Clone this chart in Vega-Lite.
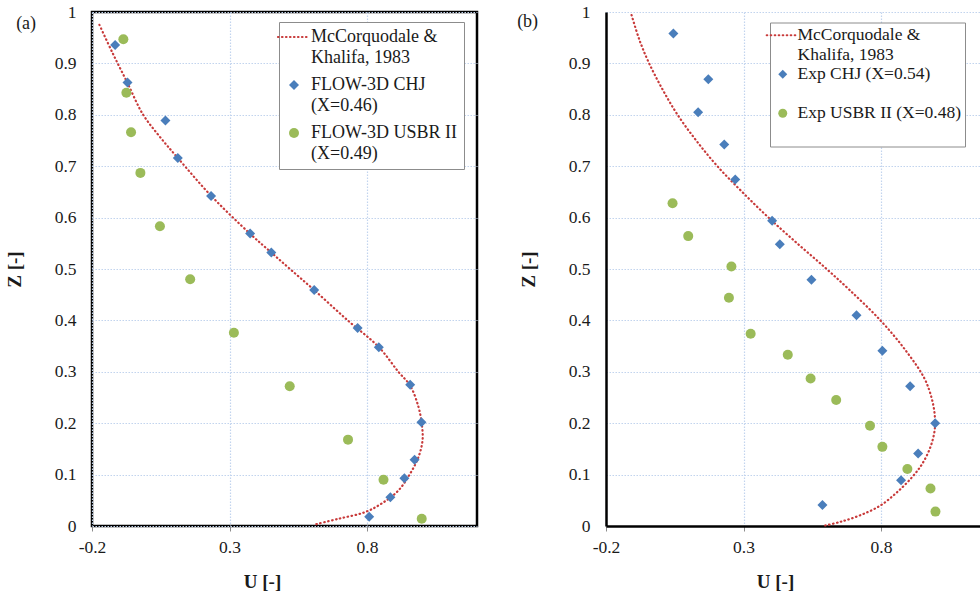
{
  "$schema": "https://vega.github.io/schema/vega-lite/v6.json",
  "background": "white",
  "padding": {"left": 3, "top": 1, "right": 0, "bottom": 0},
  "config": {
    "font": "Liberation Serif",
    "view": {"stroke": "#000000", "strokeWidth": 2.5},
    "axis": {
      "labelFont": "Liberation Serif", "labelFontSize": 17.5, "labelColor": "#1a1a1a", "labelFlush": false,
      "titleFont": "Liberation Serif", "titleFontSize": 19, "titleFontWeight": "bold", "titleColor": "#1a1a1a",
      "gridColor": "#c2d4ee", "gridDash": [1.5, 1.5], "gridWidth": 1.2, "gridOpacity": 1
    }
  },
  "datasets": {
    "curveA": [
      {"u": -0.173, "z": 0.975, "series": "McCorquodale & Khalifa, 1983"},
      {"u": -0.125, "z": 0.920, "series": "McCorquodale & Khalifa, 1983"},
      {"u": -0.072, "z": 0.863, "series": "McCorquodale & Khalifa, 1983"},
      {"u": -0.015, "z": 0.801, "series": "McCorquodale & Khalifa, 1983"},
      {"u": 0.047, "z": 0.757, "series": "McCorquodale & Khalifa, 1983"},
      {"u": 0.112, "z": 0.716, "series": "McCorquodale & Khalifa, 1983"},
      {"u": 0.234, "z": 0.642, "series": "McCorquodale & Khalifa, 1983"},
      {"u": 0.374, "z": 0.569, "series": "McCorquodale & Khalifa, 1983"},
      {"u": 0.452, "z": 0.532, "series": "McCorquodale & Khalifa, 1983"},
      {"u": 0.520, "z": 0.500, "series": "McCorquodale & Khalifa, 1983"},
      {"u": 0.608, "z": 0.459, "series": "McCorquodale & Khalifa, 1983"},
      {"u": 0.730, "z": 0.400, "series": "McCorquodale & Khalifa, 1983"},
      {"u": 0.843, "z": 0.348, "series": "McCorquodale & Khalifa, 1983"},
      {"u": 0.914, "z": 0.300, "series": "McCorquodale & Khalifa, 1983"},
      {"u": 0.957, "z": 0.273, "series": "McCorquodale & Khalifa, 1983"},
      {"u": 0.987, "z": 0.232, "series": "McCorquodale & Khalifa, 1983"},
      {"u": 0.999, "z": 0.199, "series": "McCorquodale & Khalifa, 1983"},
      {"u": 1.002, "z": 0.167, "series": "McCorquodale & Khalifa, 1983"},
      {"u": 0.987, "z": 0.134, "series": "McCorquodale & Khalifa, 1983"},
      {"u": 0.957, "z": 0.102, "series": "McCorquodale & Khalifa, 1983"},
      {"u": 0.914, "z": 0.069, "series": "McCorquodale & Khalifa, 1983"},
      {"u": 0.854, "z": 0.044, "series": "McCorquodale & Khalifa, 1983"},
      {"u": 0.793, "z": 0.027, "series": "McCorquodale & Khalifa, 1983"},
      {"u": 0.696, "z": 0.014, "series": "McCorquodale & Khalifa, 1983"},
      {"u": 0.611, "z": 0.003, "series": "McCorquodale & Khalifa, 1983"}
    ],
    "pointsA": [
      {"u": -0.116, "z": 0.936, "series": "FLOW-3D CHJ (X=0.46)"},
      {"u": -0.071, "z": 0.863, "series": "FLOW-3D CHJ (X=0.46)"},
      {"u": 0.067, "z": 0.789, "series": "FLOW-3D CHJ (X=0.46)"},
      {"u": 0.112, "z": 0.716, "series": "FLOW-3D CHJ (X=0.46)"},
      {"u": 0.233, "z": 0.642, "series": "FLOW-3D CHJ (X=0.46)"},
      {"u": 0.375, "z": 0.569, "series": "FLOW-3D CHJ (X=0.46)"},
      {"u": 0.452, "z": 0.532, "series": "FLOW-3D CHJ (X=0.46)"},
      {"u": 0.608, "z": 0.459, "series": "FLOW-3D CHJ (X=0.46)"},
      {"u": 0.766, "z": 0.385, "series": "FLOW-3D CHJ (X=0.46)"},
      {"u": 0.843, "z": 0.348, "series": "FLOW-3D CHJ (X=0.46)"},
      {"u": 0.957, "z": 0.275, "series": "FLOW-3D CHJ (X=0.46)"},
      {"u": 0.998, "z": 0.202, "series": "FLOW-3D CHJ (X=0.46)"},
      {"u": 0.973, "z": 0.129, "series": "FLOW-3D CHJ (X=0.46)"},
      {"u": 0.936, "z": 0.093, "series": "FLOW-3D CHJ (X=0.46)"},
      {"u": 0.885, "z": 0.056, "series": "FLOW-3D CHJ (X=0.46)"},
      {"u": 0.808, "z": 0.018, "series": "FLOW-3D CHJ (X=0.46)"},
      {"u": -0.086, "z": 0.947, "series": "FLOW-3D USBR II (X=0.49)"},
      {"u": -0.075, "z": 0.843, "series": "FLOW-3D USBR II (X=0.49)"},
      {"u": -0.058, "z": 0.766, "series": "FLOW-3D USBR II (X=0.49)"},
      {"u": -0.024, "z": 0.687, "series": "FLOW-3D USBR II (X=0.49)"},
      {"u": 0.047, "z": 0.583, "series": "FLOW-3D USBR II (X=0.49)"},
      {"u": 0.157, "z": 0.480, "series": "FLOW-3D USBR II (X=0.49)"},
      {"u": 0.316, "z": 0.376, "series": "FLOW-3D USBR II (X=0.49)"},
      {"u": 0.519, "z": 0.272, "series": "FLOW-3D USBR II (X=0.49)"},
      {"u": 0.731, "z": 0.168, "series": "FLOW-3D USBR II (X=0.49)"},
      {"u": 0.860, "z": 0.090, "series": "FLOW-3D USBR II (X=0.49)"},
      {"u": 0.999, "z": 0.014, "series": "FLOW-3D USBR II (X=0.49)"}
    ],
    "curveB": [
      {"u": -0.107, "z": 0.994, "series": "McCorquodale & Khalifa, 1983"},
      {"u": -0.078, "z": 0.945, "series": "McCorquodale & Khalifa, 1983"},
      {"u": -0.044, "z": 0.901, "series": "McCorquodale & Khalifa, 1983"},
      {"u": 0.005, "z": 0.850, "series": "McCorquodale & Khalifa, 1983"},
      {"u": 0.059, "z": 0.801, "series": "McCorquodale & Khalifa, 1983"},
      {"u": 0.128, "z": 0.750, "series": "McCorquodale & Khalifa, 1983"},
      {"u": 0.205, "z": 0.700, "series": "McCorquodale & Khalifa, 1983"},
      {"u": 0.295, "z": 0.650, "series": "McCorquodale & Khalifa, 1983"},
      {"u": 0.391, "z": 0.600, "series": "McCorquodale & Khalifa, 1983"},
      {"u": 0.495, "z": 0.550, "series": "McCorquodale & Khalifa, 1983"},
      {"u": 0.596, "z": 0.503, "series": "McCorquodale & Khalifa, 1983"},
      {"u": 0.686, "z": 0.459, "series": "McCorquodale & Khalifa, 1983"},
      {"u": 0.798, "z": 0.400, "series": "McCorquodale & Khalifa, 1983"},
      {"u": 0.889, "z": 0.342, "series": "McCorquodale & Khalifa, 1983"},
      {"u": 0.958, "z": 0.287, "series": "McCorquodale & Khalifa, 1983"},
      {"u": 0.986, "z": 0.245, "series": "McCorquodale & Khalifa, 1983"},
      {"u": 0.996, "z": 0.212, "series": "McCorquodale & Khalifa, 1983"},
      {"u": 0.995, "z": 0.186, "series": "McCorquodale & Khalifa, 1983"},
      {"u": 0.980, "z": 0.154, "series": "McCorquodale & Khalifa, 1983"},
      {"u": 0.950, "z": 0.121, "series": "McCorquodale & Khalifa, 1983"},
      {"u": 0.913, "z": 0.095, "series": "McCorquodale & Khalifa, 1983"},
      {"u": 0.859, "z": 0.066, "series": "McCorquodale & Khalifa, 1983"},
      {"u": 0.798, "z": 0.040, "series": "McCorquodale & Khalifa, 1983"},
      {"u": 0.725, "z": 0.021, "series": "McCorquodale & Khalifa, 1983"},
      {"u": 0.652, "z": 0.008, "series": "McCorquodale & Khalifa, 1983"},
      {"u": 0.597, "z": 0.001, "series": "McCorquodale & Khalifa, 1983"}
    ],
    "pointsB": [
      {"u": 0.045, "z": 0.958, "series": "Exp CHJ (X=0.54)"},
      {"u": 0.172, "z": 0.869, "series": "Exp CHJ (X=0.54)"},
      {"u": 0.135, "z": 0.805, "series": "Exp CHJ (X=0.54)"},
      {"u": 0.230, "z": 0.742, "series": "Exp CHJ (X=0.54)"},
      {"u": 0.270, "z": 0.674, "series": "Exp CHJ (X=0.54)"},
      {"u": 0.404, "z": 0.594, "series": "Exp CHJ (X=0.54)"},
      {"u": 0.432, "z": 0.548, "series": "Exp CHJ (X=0.54)"},
      {"u": 0.547, "z": 0.479, "series": "Exp CHJ (X=0.54)"},
      {"u": 0.711, "z": 0.410, "series": "Exp CHJ (X=0.54)"},
      {"u": 0.805, "z": 0.341, "series": "Exp CHJ (X=0.54)"},
      {"u": 0.906, "z": 0.272, "series": "Exp CHJ (X=0.54)"},
      {"u": 0.997, "z": 0.200, "series": "Exp CHJ (X=0.54)"},
      {"u": 0.935, "z": 0.141, "series": "Exp CHJ (X=0.54)"},
      {"u": 0.873, "z": 0.089, "series": "Exp CHJ (X=0.54)"},
      {"u": 0.587, "z": 0.041, "series": "Exp CHJ (X=0.54)"},
      {"u": 0.042, "z": 0.628, "series": "Exp USBR II (X=0.48)"},
      {"u": 0.099, "z": 0.564, "series": "Exp USBR II (X=0.48)"},
      {"u": 0.256, "z": 0.505, "series": "Exp USBR II (X=0.48)"},
      {"u": 0.247, "z": 0.444, "series": "Exp USBR II (X=0.48)"},
      {"u": 0.326, "z": 0.374, "series": "Exp USBR II (X=0.48)"},
      {"u": 0.461, "z": 0.333, "series": "Exp USBR II (X=0.48)"},
      {"u": 0.544, "z": 0.287, "series": "Exp USBR II (X=0.48)"},
      {"u": 0.637, "z": 0.245, "series": "Exp USBR II (X=0.48)"},
      {"u": 0.760, "z": 0.195, "series": "Exp USBR II (X=0.48)"},
      {"u": 0.805, "z": 0.154, "series": "Exp USBR II (X=0.48)"},
      {"u": 0.896, "z": 0.111, "series": "Exp USBR II (X=0.48)"},
      {"u": 0.980, "z": 0.073, "series": "Exp USBR II (X=0.48)"},
      {"u": 0.998, "z": 0.028, "series": "Exp USBR II (X=0.48)"}
    ]
  },
  "spacing": 38,
  "resolve": {
    "scale": {"x": "independent", "y": "independent", "color": "independent", "shape": "independent"},
    "legend": {"color": "independent", "shape": "independent"}
  },
  "hconcat": [
    {
      "width": 385,
      "height": 514,
      "title": {"text": "(a)", "anchor": "start", "frame": "bounds", "font": "Liberation Serif", "fontSize": 18, "fontWeight": "normal", "color": "#1a1a1a", "baseline": "alphabetic", "offset": 0, "dx": 11, "dy": 44},
      "layer": [
        {
          "mark": {"type": "rule", "color": "#a3a3a3", "strokeWidth": 1.5},
          "encoding": {"x": {"datum": 0, "type": "quantitative"}}
        },
        {
          "data": {"name": "curveA"},
          "mark": {"type": "line", "interpolate": "catmull-rom", "strokeWidth": 2.2, "strokeDash": [0.5, 3.5], "strokeCap": "round"},
          "encoding": {
            "x": {"field": "u", "type": "quantitative", "scale": {"domain": [-0.2, 1.2], "nice": false, "zero": false},
              "axis": {"values": [-0.2, 0.3, 0.8], "labelExpr": "toString(datum.value)", "grid": true, "ticks": true, "tickSize": 5, "tickColor": "#8c8c8c", "domain": false, "labelPadding": 7, "title": "U [-]", "titleX": 170, "titlePadding": 17}},
            "y": {"field": "z", "type": "quantitative", "scale": {"domain": [0, 1], "nice": false},
              "axis": {"values": [0, 0.1, 0.2, 0.3, 0.4, 0.5, 0.6, 0.7, 0.8, 0.9, 1], "format": "~g", "grid": true, "ticks": false, "domain": false, "labelPadding": 16, "title": "Z [-]", "titlePadding": 30}},
            "order": {"field": "z", "type": "quantitative", "sort": "descending"},
            "color": {"field": "series", "type": "nominal",
              "scale": {"domain": ["McCorquodale & Khalifa, 1983", "FLOW-3D CHJ (X=0.46)", "FLOW-3D USBR II (X=0.49)"], "range": ["#c83a3a", "#4a7ebb", "#9bbb59"]},
              "legend": {
                "title": null, "orient": "none", "legendX": 187, "legendY": 10, "padding": 6, "rowPadding": 9, "labelOffset": 8,
                "symbolSize": 1024, "labelFont": "Liberation Serif", "labelFontSize": 18, "labelColor": "#1a1a1a", "labelLimit": 300,
                "strokeColor": "#8c8c8c", "fillColor": "#ffffff",
                "labelExpr": "split(replace(replace(datum.label, '& ', '&|'), ' (', '|('), '|')",
                "encode": {
                  "symbols": {"update": {
                    "size": {"signal": "datum.index == 0 ? 1024 : 100"},
                    "fill": {"signal": "datum.index == 1 ? '#4a7ebb' : datum.index == 2 ? '#9bbb59' : 'transparent'"},
                    "stroke": {"signal": "datum.index == 0 ? '#c83a3a' : 'transparent'"},
                    "strokeDash": {"value": [0.5, 3.5]},
                    "strokeCap": {"value": "round"},
                    "strokeWidth": {"signal": "datum.index == 0 ? 2.2 : 0"},
                    "opacity": {"value": 1}
                  }},
                  "labels": {"update": {"lineHeight": {"value": 21}}}
                }
              }
            }
          }
        },
        {
          "data": {"name": "pointsA"},
          "mark": {"type": "point", "filled": true, "opacity": 1, "size": 100},
          "encoding": {
            "x": {"field": "u", "type": "quantitative"},
            "y": {"field": "z", "type": "quantitative"},
            "color": {"field": "series", "type": "nominal"},
            "shape": {"field": "series", "type": "nominal",
              "scale": {"domain": ["McCorquodale & Khalifa, 1983", "FLOW-3D CHJ (X=0.46)", "FLOW-3D USBR II (X=0.49)"], "range": ["stroke", "diamond", "circle"]}}
          }
        }
      ]
    },
    {
      "width": 374,
      "height": 514,
      "view": {"stroke": null},
      "title": {"text": "(b)", "anchor": "start", "frame": "bounds", "font": "Liberation Serif", "fontSize": 18, "fontWeight": "normal", "color": "#1a1a1a", "baseline": "alphabetic", "offset": 0, "dx": -2, "dy": 42},
      "layer": [
        {
          "mark": {"type": "rule", "color": "#a3a3a3", "strokeWidth": 1.5},
          "encoding": {"x": {"datum": 0, "type": "quantitative"}}
        },
        {
          "mark": {"type": "rule", "color": "#000000", "strokeWidth": 2.5},
          "encoding": {"y": {"datum": 1, "type": "quantitative"}}
        },
        {
          "data": {"name": "curveB"},
          "mark": {"type": "line", "interpolate": "catmull-rom", "strokeWidth": 2.2, "strokeDash": [0.5, 3.5], "strokeCap": "round"},
          "encoding": {
            "x": {"field": "u", "type": "quantitative", "scale": {"domain": [-0.2, 1.16], "nice": false, "zero": false},
              "axis": {"values": [-0.2, 0.3, 0.8], "labelExpr": "toString(datum.value)", "grid": true, "ticks": true, "tickSize": 5, "tickColor": "#8c8c8c", "domain": true, "domainColor": "#000000", "domainWidth": 2.5, "labelPadding": 7, "title": "U [-]", "titleX": 169, "titlePadding": 17}},
            "y": {"field": "z", "type": "quantitative", "scale": {"domain": [0, 1], "nice": false},
              "axis": {"values": [0, 0.1, 0.2, 0.3, 0.4, 0.5, 0.6, 0.7, 0.8, 0.9, 1], "format": "~g", "grid": true, "ticks": false, "domain": true, "domainColor": "#000000", "domainWidth": 2.5, "labelPadding": 16, "title": "Z [-]", "titlePadding": 30}},
            "order": {"field": "z", "type": "quantitative", "sort": "descending"},
            "color": {"field": "series", "type": "nominal",
              "scale": {"domain": ["McCorquodale & Khalifa, 1983", "Exp CHJ (X=0.54)", "Exp USBR II (X=0.48)"], "range": ["#c83a3a", "#4a7ebb", "#9bbb59"]},
              "legend": {
                "title": null, "orient": "none", "legendX": 164, "legendY": 10.5, "padding": 4, "rowPadding": 0, "labelOffset": 6,
                "symbolSize": 1024, "labelFont": "Liberation Serif", "labelFontSize": 17.5, "labelColor": "#1a1a1a", "labelLimit": 300,
                "strokeColor": "#8c8c8c", "fillColor": "#ffffff",
                "labelExpr": "indexof(datum.label, '&') > 0 ? split(replace(datum.label, '& ', '&|'), '|') : [datum.label, '\u00a0']",
                "encode": {
                  "symbols": {"update": {
                    "size": {"signal": "datum.index == 0 ? 1024 : 80"},
                    "fill": {"signal": "datum.index == 1 ? '#4a7ebb' : datum.index == 2 ? '#9bbb59' : 'transparent'"},
                    "stroke": {"signal": "datum.index == 0 ? '#c83a3a' : 'transparent'"},
                    "strokeDash": {"value": [0.5, 3.5]},
                    "strokeCap": {"value": "round"},
                    "strokeWidth": {"signal": "datum.index == 0 ? 2.2 : 0"},
                    "opacity": {"value": 1}
                  }},
                  "labels": {"update": {"lineHeight": {"value": 20}}}
                }
              }
            }
          }
        },
        {
          "data": {"name": "pointsB"},
          "mark": {"type": "point", "filled": true, "opacity": 1, "size": 100},
          "encoding": {
            "x": {"field": "u", "type": "quantitative"},
            "y": {"field": "z", "type": "quantitative"},
            "color": {"field": "series", "type": "nominal"},
            "shape": {"field": "series", "type": "nominal",
              "scale": {"domain": ["McCorquodale & Khalifa, 1983", "Exp CHJ (X=0.54)", "Exp USBR II (X=0.48)"], "range": ["stroke", "diamond", "circle"]}}
          }
        }
      ]
    }
  ]
}
